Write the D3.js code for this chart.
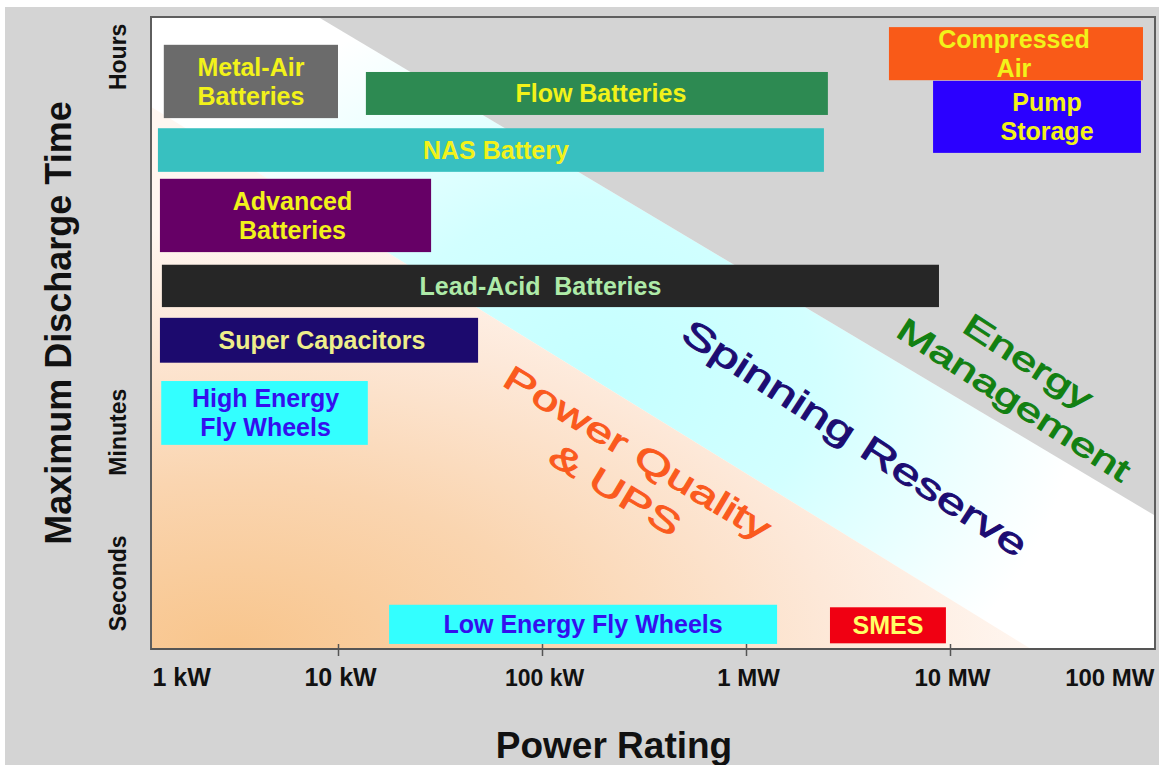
<!DOCTYPE html>
<html>
<head>
<meta charset="utf-8">
<script src="https://cdn.jsdelivr.net/npm/d3@7"></script>
<style>
  body { margin: 0; background: #fff; }
  svg { display: block; font-family: "Liberation Sans", Arial, sans-serif; }
</style>
</head>
<body>
<div id="chart-container"></div>
<script>
// storage technologies: power rating in kW, discharge time on a relative 0-100 scale
const techLabels = [
    ["Metal-Air", "Batteries"],
    ["Flow Batteries"],
    ["NAS Battery"],
    ["Advanced", "Batteries"],
    ["Lead-Acid  Batteries"],
    ["Super Capacitors"],
    ["High Energy", "Fly Wheels"],
    ["Low Energy Fly Wheels"],
    ["SMES"],
    ["Compressed", "Air"],
    ["Pump", "Storage"]
];
const powerMin = [1.40, 13.7, 1.31, 1.34, 1.37, 1.34, 1.36, 17.8, 2580, 5020, 8260];
const powerMax = [10, 2520, 2410, 28.6, 8830, 48.6, 14, 1420, 9550, 88300, 86300];
const timeMax = [95.6, 91.3, 82.4, 74.4, 60.8, 52.4, 42.4, 7.0, 6.6, 98.4, 89.9];
const timeMin = [84.0, 84.5, 75.5, 62.8, 54.1, 45.3, 32.3, 0.8, 0.9, 90.0, 78.5];

// axis ticks
const powerTicks = [1, 10, 100, 1000, 10000, 100000];
const powerTickLabels = ["1 kW", "10 kW", "100 kW", "1 MW", "10 MW", "100 MW"];
const timeTicks = [93.7, 34.3, 10.4];
const timeTickLabels = ["Hours", "Minutes", "Seconds"];

// application regions (kW, time)
const energyMgmtArea = [[8, 100], [100000, 100], [100000, 21.2]];
const spinningArea = [[1.21, 100], [8, 100], [100000, 21.2], [100000, 0], [24950, 0], [1.21, 85.8]];
const powerQualityArea = [[1.21, 85.8], [24950, 0], [1.21, 0]];

// region labels: lines and anchor (kW, time)
const regionLabels = [
    { lines: ["Power Quality", "& UPS"], at: [259, 28.1] },
    { lines: ["Spinning Reserve"], at: [3420, 33.4] },
    { lines: ["Energy", "Management"], at: [22300, 42.5] }
];

// styles
const fillColor = d3.scaleOrdinal()
    .domain(d3.range(techLabels.length))
    .range(["#6b6b6b", "#2d8a52", "#38c0c0", "#660066", "#262626", "#1c0a6e",
            "#33ffff", "#33ffff", "#f00012", "#f95a18", "#2b00ff"]);
const textColor = d3.scaleOrdinal()
    .domain(d3.range(techLabels.length))
    .range(["#f2f21a", "#f2f21a", "#f2f21a", "#f2f21a", "#aeeaa8", "#eeee8a",
            "#3410ee", "#3410ee", "#ffff66", "#f2f21a", "#f2f21a"]);
const textShift = [0, 4, 5, -3, -10, 3, 1, 0, 0, -2, 10];
const regionStyle = [
    { color: "#fa5a1e", size: 34, angle: 31, stretch: 1.44, gap: 43, shift: [0, 0] },
    { color: "#1c0c72", size: 36, angle: 33, stretch: 1.42, gap: 0, shift: [0] },
    { color: "#128012", size: 32, angle: 33, stretch: 1.45, gap: 40, shift: [-3, 3] }
];
const tickFontSize = [25, 25, 23, 24, 24, 24];

const width = 1159;
const height = 765;
const plot = { left: 151, right: 1155, top: 17, bottom: 649 };

const svg = d3.select("#chart-container").append("svg")
    .attr("width", width)
    .attr("height", height);

// scales
const x = d3.scaleLog()
    .domain([1, 100000])
    .range([134, 1154]);
const y = d3.scaleLinear()
    .domain([0, 100])
    .range([plot.bottom, plot.top]);

// backgrounds
svg.append("rect").attr("width", width).attr("height", height).attr("fill", "#fff");
svg.append("rect").attr("x", 5).attr("y", 7)
    .attr("width", width - 5).attr("height", height - 7).attr("fill", "#d4d4d4");
svg.append("rect")
    .attr("x", plot.left).attr("y", plot.top)
    .attr("width", plot.right - plot.left).attr("height", plot.bottom - plot.top)
    .attr("fill", "#fff");

const defs = svg.append("defs");
const cyanGrad = defs.append("radialGradient")
    .attr("id", "cyanGrad")
    .attr("gradientUnits", "userSpaceOnUse")
    .attr("cx", 0).attr("cy", 0).attr("r", 1)
    .attr("gradientTransform", "translate(600,380) scale(480,400)");
cyanGrad.append("stop").attr("offset", 0).attr("stop-color", "#c4ffff");
cyanGrad.append("stop").attr("offset", 0.45).attr("stop-color", "#d2ffff");
cyanGrad.append("stop").attr("offset", 1).attr("stop-color", "#ffffff");

const orangeGrad = defs.append("radialGradient")
    .attr("id", "orangeGrad")
    .attr("gradientUnits", "userSpaceOnUse")
    .attr("cx", 0).attr("cy", 0).attr("r", 1)
    .attr("gradientTransform", "translate(230,649) scale(800,420)");
orangeGrad.append("stop").attr("offset", 0).attr("stop-color", "#f8c58c");
orangeGrad.append("stop").attr("offset", 0.4).attr("stop-color", "#fad5b0");
orangeGrad.append("stop").attr("offset", 0.75).attr("stop-color", "#fde8d8");
orangeGrad.append("stop").attr("offset", 1).attr("stop-color", "#fff6f0");

const area = d3.line().x(d => x(d[0])).y(d => y(d[1]));

svg.append("path").attr("d", area(spinningArea) + "Z").attr("fill", "url(#cyanGrad)");
svg.append("path").attr("d", area(powerQualityArea) + "Z").attr("fill", "url(#orangeGrad)");
svg.append("path").attr("d", area(energyMgmtArea) + "Z").attr("fill", "#d4d4d4");

// region labels
regionLabels.forEach((r, i) => {
    const s = regionStyle[i];
    const g = svg.append("g")
        .attr("transform", `translate(${x(r.at[0])},${y(r.at[1])}) rotate(${s.angle}) scale(${s.stretch},1)`);
    const n = r.lines.length;
    r.lines.forEach((line, j) => {
        g.append("text")
            .attr("x", s.shift[j])
            .attr("y", (j - (n - 1) / 2) * s.gap)
            .attr("text-anchor", "middle")
            .attr("dominant-baseline", "central")
            .attr("fill", s.color)
            .attr("stroke", s.color)
            .attr("stroke-width", 0.9)
            .style("font-size", s.size + "px")
            .text(line);
    });
});

// frame
svg.append("rect")
    .attr("x", plot.left).attr("y", plot.top)
    .attr("width", plot.right - plot.left).attr("height", plot.bottom - plot.top)
    .attr("fill", "none")
    .attr("stroke", "#5e5e5e")
    .attr("stroke-width", 2);

// technology bars
const bars = svg.selectAll("g.tech")
    .data(techLabels)
    .join("g")
    .attr("class", "tech");

bars.append("rect")
    .attr("x", (d, i) => x(powerMin[i]))
    .attr("y", (d, i) => y(timeMax[i]))
    .attr("width", (d, i) => x(powerMax[i]) - x(powerMin[i]))
    .attr("height", (d, i) => y(timeMin[i]) - y(timeMax[i]))
    .attr("fill", (d, i) => fillColor(i));

bars.each(function(lines, i) {
    const cx = (x(powerMin[i]) + x(powerMax[i])) / 2 + textShift[i];
    const cy = (y(timeMin[i]) + y(timeMax[i])) / 2;
    lines.forEach((line, j) => {
        d3.select(this).append("text")
            .attr("x", cx)
            .attr("y", cy + (j - (lines.length - 1) / 2) * 29)
            .attr("text-anchor", "middle")
            .attr("dominant-baseline", "central")
            .attr("fill", textColor(i))
            .style("font-size", "25px")
            .style("font-weight", "bold")
            .style("white-space", "pre")
            .text(line);
    });
});

// x axis
svg.append("line")
    .attr("x1", plot.left).attr("x2", plot.right)
    .attr("y1", plot.bottom).attr("y2", plot.bottom)
    .attr("stroke", "#555").attr("stroke-width", 2);

const xAxis = svg.append("g")
    .attr("transform", `translate(0,${plot.bottom})`)
    .call(d3.axisBottom(x)
        .tickValues(powerTicks)
        .tickFormat((d, i) => powerTickLabels[i])
        .tickSizeInner(7)
        .tickSizeOuter(0));
xAxis.select(".domain").remove();
xAxis.selectAll(".tick line")
    .attr("y1", -5)
    .attr("stroke", "#555")
    .attr("stroke-width", 1.5)
    .attr("display", (d, i) => (i === 0 || i === powerTicks.length - 1) ? "none" : null);
xAxis.selectAll(".tick text")
    .attr("y", 37)
    .attr("dy", 0)
    .attr("fill", "#111")
    .style("font-family", "'Liberation Sans', Arial, sans-serif")
    .style("font-size", (d, i) => tickFontSize[i] + "px")
    .style("font-weight", "bold")
    .attr("text-anchor", (d, i) => i === 0 ? "start" : (i === powerTicks.length - 1 ? "end" : "middle"))
    .attr("x", (d, i) => i === 0 ? plot.left - x(d) + 1 : (i === powerTicks.length - 1 ? plot.right - x(d) - 1 : 2));

svg.append("text")
    .attr("x", 614)
    .attr("y", 758)
    .attr("text-anchor", "middle")
    .attr("fill", "#111")
    .style("font-size", "37px")
    .style("font-weight", "bold")
    .text("Power Rating");

// y axis
svg.selectAll("text.ytick")
    .data(timeTicks)
    .join("text")
    .attr("class", "ytick")
    .attr("transform", d => `translate(118,${y(d)}) rotate(-90)`)
    .attr("text-anchor", "middle")
    .attr("dominant-baseline", "central")
    .attr("fill", "#111")
    .style("font-size", "23px")
    .style("font-weight", "bold")
    .text((d, i) => timeTickLabels[i]);

svg.append("text")
    .attr("transform", "translate(58,323) rotate(-90)")
    .attr("text-anchor", "middle")
    .attr("dominant-baseline", "central")
    .attr("fill", "#111")
    .style("font-size", "36px")
    .style("font-weight", "bold")
    .text("Maximum Discharge Time");
</script>
</body>
</html>
